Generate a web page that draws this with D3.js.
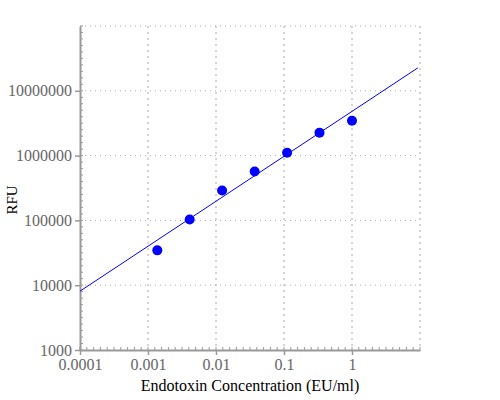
<!DOCTYPE html>
<html>
<head>
<meta charset="utf-8">
<script src="https://cdn.jsdelivr.net/npm/d3@7"></script>
<style>
  body { margin: 0; background: #fff; }
  svg text { font-family: "Times New Roman", "Liberation Serif", Times, "DejaVu Serif", serif; }
  .grid-h line { stroke: #aaa; stroke-dasharray: 1,4; }
  .grid-v line { stroke: #aaa; stroke-dasharray: 2,4; }
</style>
</head>
<body>
<div id="chart"></div>
<script>
// data
const concentrations = [0.00137, 0.0041, 0.0123, 0.037, 0.111, 0.333, 1];
const rfu = [34500, 103000, 290000, 568000, 1110000, 2260000, 3450000];
// fitted line end points [EU/ml, RFU]
const fitLine = [[0.0001, 8090], [9.3, 22600000]];
const xTicks = [0.0001, 0.001, 0.01, 0.1, 1];
const yTicks = [1000, 10000, 100000, 1000000, 10000000];

const margin = { top: 26, right: 80, bottom: 50, left: 80 };
const width = 500 - margin.left - margin.right;
const height = 400 - margin.top - margin.bottom;

const svg = d3
  .select("#chart")
  .append("svg")
  .attr("width", 500)
  .attr("height", 400)
  .append("g")
  .attr("transform", `translate(${margin.left},${margin.top})`);

const xScale = d3.scaleLog().domain([0.0001, 10]).range([0, width]);
const yScale = d3.scaleLog().domain([1000, 100000000]).range([height, 0]);

// grid
svg
  .append("g")
  .attr("class", "grid-v")
  .selectAll("line")
  .data(xTicks.slice(1).concat([10]))
  .enter()
  .append("line")
  .attr("x1", d => xScale(d))
  .attr("x2", d => xScale(d))
  .attr("y1", 0)
  .attr("y2", height);

svg
  .append("g")
  .attr("class", "grid-h")
  .selectAll("line")
  .data(yTicks.slice(1).concat([100000000]))
  .enter()
  .append("line")
  .attr("x1", 0)
  .attr("x2", width)
  .attr("y1", d => yScale(d))
  .attr("y2", d => yScale(d));

// minor ticks, evenly spaced, ten per decade
const minorX = d3.range(0, width + 0.01, width / 50);
const minorY = d3.range(0, height + 0.01, height / 50);

svg
  .append("g")
  .selectAll("line")
  .data(minorX)
  .enter()
  .append("line")
  .attr("x1", d => d)
  .attr("x2", d => d)
  .attr("y1", height)
  .attr("y2", height - 3)
  .attr("stroke", "#999");

svg
  .append("g")
  .selectAll("line")
  .data(minorY)
  .enter()
  .append("line")
  .attr("x1", 0)
  .attr("x2", 3)
  .attr("y1", d => d)
  .attr("y2", d => d)
  .attr("stroke", "#999");

// axes
const xAxis = svg
  .append("g")
  .attr("transform", `translate(0,${height})`)
  .call(
    d3
      .axisBottom(xScale)
      .tickValues(xTicks)
      .tickFormat(d => String(d))
      .tickSize(5)
      .tickSizeOuter(0)
  );

const yAxis = svg.append("g").call(
  d3
    .axisLeft(yScale)
    .tickValues(yTicks)
    .tickFormat(d => String(d))
    .tickSize(5)
    .tickSizeOuter(0)
);

[xAxis, yAxis].forEach(a => {
  a.attr("font-family", null);
  a.select(".domain").attr("stroke", "#999").attr("stroke-width", 2);
  a.selectAll(".tick line").attr("stroke", "#999").attr("stroke-width", 1.5);
  a.selectAll(".tick text")
    .attr("fill", "#666")
    .style("font-size", "16px");
});
xAxis.selectAll(".tick text").attr("dy", "0.85em").attr("y", 6);
yAxis.selectAll(".tick text").attr("x", -8);

// fit line
svg
  .append("path")
  .datum(fitLine)
  .attr("fill", "none")
  .attr("stroke", "#0000ff")
  .attr("stroke-width", 1)
  .attr("d", d3.line().x(d => xScale(d[0])).y(d => yScale(d[1])));

// points
svg
  .selectAll(".dot")
  .data(concentrations)
  .enter()
  .append("circle")
  .attr("class", "dot")
  .attr("cx", d => xScale(d))
  .attr("cy", (d, i) => yScale(rfu[i]))
  .attr("r", 5)
  .attr("fill", "#0000ff");

// titles
svg
  .append("text")
  .attr("x", width / 2)
  .attr("y", height + 41)
  .attr("text-anchor", "middle")
  .style("font-size", "16px")
  .text("Endotoxin Concentration (EU/ml)");

svg
  .append("text")
  .attr("transform", `translate(${-63},${174}) rotate(-90)`)
  .attr("text-anchor", "middle")
  .style("font-size", "15px")
  .text("RFU");
</script>
</body>
</html>
